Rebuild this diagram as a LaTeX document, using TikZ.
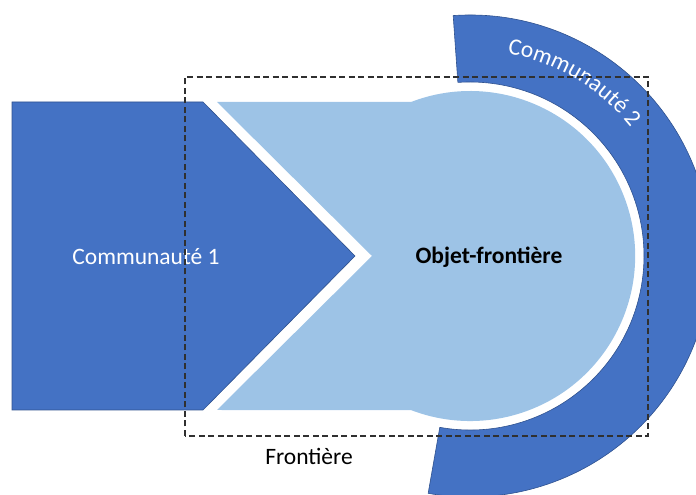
\documentclass[tikz,border=0pt]{standalone}
\usepackage{fontspec}
\setmainfont{Carlito}
\usetikzlibrary{decorations.text}
\definecolor{bleufonce}{HTML}{4472C4}
\definecolor{bleuclair}{HTML}{9DC3E6}
\definecolor{bordure}{HTML}{2F528F}
\definecolor{gristrait}{HTML}{303030}
\begin{document}
\begin{tikzpicture}[x=1pt, y=1pt]

    \tikzset{%
    every communaute/.style={
        fill=bleufonce,
        draw=bordure,
        line width=0.6pt
        },
    objet frontiere/.style={
        fill=bleuclair,
        draw=none
        },
    limite/.style={
        draw=gristrait,
        line width=1.3pt,
        dash pattern=on 6pt off 3.5pt
        },
    etiquette/.style={
        font=\fontsize{23.5}{28}\selectfont,
        inner sep=0pt
        },
    }

    \useasboundingbox (0,0) rectangle (696,495);

    % Communaute 2 : secteur d'anneau autour de l'objet
    \coordinate (centre) at (470,239);
    \path [every communaute] (centre) ++(94:241) arc (94:-100:241)
        -- ++(80:67) arc (-100:94:174) -- cycle;

    % Objet-frontiere
    \path [objet frontiere] (217,393) -- (411,393)
        arc (111:-111:165) -- (217,85) -- (372,239) -- cycle;

    % Communaute 1
    \path [every communaute] (12,393) -- (203,393) -- (355,239)
        -- (203,85) -- (12,85) -- cycle;

    % Labels
    \node [etiquette, text=white] (communaute-1) at (146,238) {Communauté 1};
    \node [etiquette, font=\fontsize{23.5}{28}\selectfont\bfseries] (objet) at (489,238) {Objet-frontière};
    \path [decorate, decoration={text along path, text color=white,
        text={|\fontsize{23.5}{28}\selectfont|Communauté 2}, text align=center}]
        (centre) ++(109:206) arc (109:9:206);

    % Frontiere en pointilles
    \draw [limite] (185,59) rectangle (648,418);
    \node [etiquette, anchor=base] (frontiere) at (309,30) {Frontière};

\end{tikzpicture}
\end{document}
